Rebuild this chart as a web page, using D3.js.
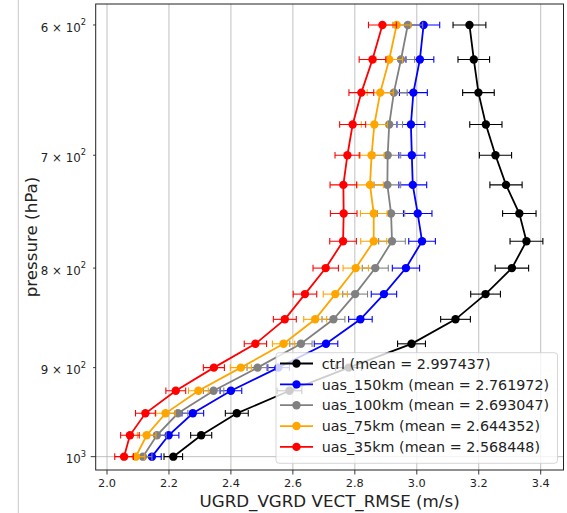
<!DOCTYPE html>
<html><head><meta charset="utf-8">
<script src="https://cdn.jsdelivr.net/npm/d3@7"></script>
<style>body{margin:0;background:#fff}svg{display:block;font-family:"DejaVu Sans",sans-serif}</style>
</head><body>
<svg id="c" width="567" height="513"></svg>
<script>
const pressure = [600,625,650,675,700,725,750,775,800,825,850,875,900,925,950,975,1000];
const seriesNames = ["ctrl (mean = 2.997437)","uas_150km (mean = 2.761972)","uas_100km (mean = 2.693047)","uas_75km (mean = 2.644352)","uas_35km (mean = 2.568448)"];
const seriesColors = ["#000000","#0000ff","#808080","#ffa500","#ff0000"];
const ctrl   = [3.170,3.184,3.199,3.223,3.254,3.288,3.331,3.354,3.307,3.222,3.125,2.983,2.780,2.589,2.419,2.304,2.214];
const uas150 = [3.022,3.010,2.989,2.981,2.984,2.987,3.003,3.017,2.965,2.894,2.818,2.707,2.553,2.400,2.277,2.199,2.145];
const uas100 = [2.971,2.949,2.926,2.911,2.906,2.905,2.917,2.920,2.866,2.801,2.731,2.626,2.486,2.344,2.229,2.161,2.116];
const uas75  = [2.935,2.911,2.882,2.863,2.854,2.849,2.861,2.861,2.803,2.737,2.672,2.570,2.432,2.295,2.189,2.128,2.093];
const uas35  = [2.889,2.857,2.821,2.793,2.776,2.763,2.764,2.762,2.706,2.639,2.574,2.479,2.345,2.222,2.124,2.074,2.055];
const ctrlErr   = [0.053,0.051,0.051,0.052,0.052,0.052,0.054,0.053,0.054,0.048,0.048,0.045,0.042,0.040,0.037,0.034,0.030];
const uas150Err = [0.052,0.045,0.045,0.045,0.042,0.045,0.046,0.043,0.044,0.041,0.038,0.038,0.036,0.035,0.035,0.033,0.030];
const uas100Err = [0.048,0.044,0.043,0.043,0.042,0.043,0.044,0.043,0.042,0.040,0.037,0.036,0.034,0.033,0.032,0.030,0.029];
const uas75Err  = [0.046,0.043,0.042,0.042,0.041,0.043,0.043,0.042,0.041,0.039,0.037,0.036,0.034,0.032,0.031,0.030,0.029];
const uas35Err  = [0.045,0.043,0.040,0.042,0.040,0.043,0.043,0.043,0.041,0.038,0.037,0.036,0.034,0.032,0.032,0.030,0.030];
const xTicks = [2.0,2.2,2.4,2.6,2.8,3.0,3.2,3.4];
const yTickVals = [600,700,800,900,1000];
const yTickBase = ["6 × 10","7 × 10","8 × 10","9 × 10","10"];
const yTickExp  = ["2","2","2","2","3"];
const xLabel = "UGRD_VGRD VECT_RMSE (m/s)";
const yLabel = "pressure (hPa)";

const seriesVals = [ctrl,uas150,uas100,uas75,uas35];
const seriesErrs = [ctrlErr,uas150Err,uas100Err,uas75Err,uas35Err];

const L=95.7,R=563.5,T=4,B=470;
const x = d3.scaleLinear().domain([1.9635,3.4736]).range([L,R]);
const y = d3.scaleLog().domain([585.3,1015.9]).range([T,B]);
const svg = d3.select("#c");

// notebook border line
svg.append("line").attr("x1",18.3).attr("x2",18.3).attr("y1",0).attr("y2",513).attr("stroke","#c8c8c8").attr("stroke-width",1);

// grid
const g = svg.append("g");
g.selectAll(".vg").data(xTicks).join("line").attr("x1",d=>x(d)).attr("x2",d=>x(d)).attr("y1",T).attr("y2",B)
 .attr("stroke","#b0b0b0").attr("stroke-width",0.8);
g.append("line").attr("x1",L).attr("x2",R).attr("y1",y(1000)).attr("y2",y(1000)).attr("stroke","#b0b0b0").attr("stroke-width",0.8);

// series
const clip = svg.append("clipPath").attr("id","cp").append("rect").attr("x",L).attr("y",T).attr("width",R-L).attr("height",B-T);
const plot = svg.append("g").attr("clip-path","url(#cp)");
const line = d3.line().x(d=>x(d[0])).y(d=>y(d[1]));
seriesVals.forEach((vals,i)=>{
  const col = seriesColors[i], errs = seriesErrs[i];
  const pts = vals.map((v,j)=>[v,pressure[j],errs[j]]);
  const sg = plot.append("g");
  sg.selectAll(".eb").data(pts).join("line").attr("x1",d=>x(d[0]-d[2])).attr("x2",d=>x(d[0]+d[2])).attr("y1",d=>y(d[1])).attr("y2",d=>y(d[1]))
    .attr("stroke",col).attr("stroke-width",1.1);
  sg.selectAll(".cl").data(pts).join("line").attr("x1",d=>x(d[0]-d[2])).attr("x2",d=>x(d[0]-d[2])).attr("y1",d=>y(d[1])-3.3).attr("y2",d=>y(d[1])+3.3)
    .attr("stroke",col).attr("stroke-width",1.1);
  sg.selectAll(".cr").data(pts).join("line").attr("x1",d=>x(d[0]+d[2])).attr("x2",d=>x(d[0]+d[2])).attr("y1",d=>y(d[1])-3.3).attr("y2",d=>y(d[1])+3.3)
    .attr("stroke",col).attr("stroke-width",1.1);
  sg.append("path").attr("d",line(pts)).attr("fill","none").attr("stroke",col).attr("stroke-width",1.8);
  sg.selectAll("circle").data(pts).join("circle").attr("cx",d=>x(d[0])).attr("cy",d=>y(d[1])).attr("r",4.2).attr("fill",col);
});

// frame
svg.append("rect").attr("x",L).attr("y",T).attr("width",R-L).attr("height",B-T).attr("fill","none").attr("stroke","#222").attr("stroke-width",1);

// x ticks
const xa = svg.append("g");
xTicks.forEach(t=>{
  xa.append("line").attr("x1",x(t)).attr("x2",x(t)).attr("y1",B).attr("y2",B+4.5).attr("stroke","#222").attr("stroke-width",0.9);
  xa.append("text").attr("x",x(t)).attr("y",B+16.5).attr("text-anchor","middle").attr("font-size",11.3).attr("fill","#222").text(t.toFixed(1));
});
svg.append("text").attr("x",(L+R)/2).attr("y",506.7).attr("text-anchor","middle").attr("font-size",16.7).attr("fill","#222").text(xLabel);

// y ticks
yTickVals.forEach((v,i)=>{
  const len = v===1000?5:2.6;
  svg.append("line").attr("x1",L-len).attr("x2",L).attr("y1",y(v)).attr("y2",y(v)).attr("stroke","#222").attr("stroke-width",0.9);
  const t = svg.append("text").attr("x",86).attr("y",y(v)+6.7).attr("text-anchor","end").attr("font-size",11.8).attr("fill","#222");
  t.append("tspan").text(yTickBase[i]);
  t.append("tspan").attr("dy",-6.5).attr("font-size",8.3).text(yTickExp[i]);
});
svg.append("text").attr("transform",`translate(36.5,${(T+B)/2}) rotate(-90)`).attr("text-anchor","middle").attr("font-size",16.7).attr("fill","#222").text(yLabel);

// legend
const lg = svg.append("g");
lg.append("rect").attr("x",276).attr("y",352.7).attr("width",281.5).attr("height",110.6).attr("rx",3)
  .attr("fill","#fff").attr("fill-opacity",0.8).attr("stroke","#cccccc").attr("stroke-opacity",0.8).attr("stroke-width",1);
seriesNames.forEach((n,i)=>{
  const yy = 363.5 + i*20.85;
  lg.append("line").attr("x1",280).attr("x2",313).attr("y1",yy).attr("y2",yy).attr("stroke",seriesColors[i]).attr("stroke-width",1.8);
  lg.append("circle").attr("cx",296.5).attr("cy",yy).attr("r",4.2).attr("fill",seriesColors[i]);
  lg.append("text").attr("x",321.7).attr("y",yy+5.2).attr("font-size",14.3).attr("fill","#222").text(n);
});
</script>
</body></html>
